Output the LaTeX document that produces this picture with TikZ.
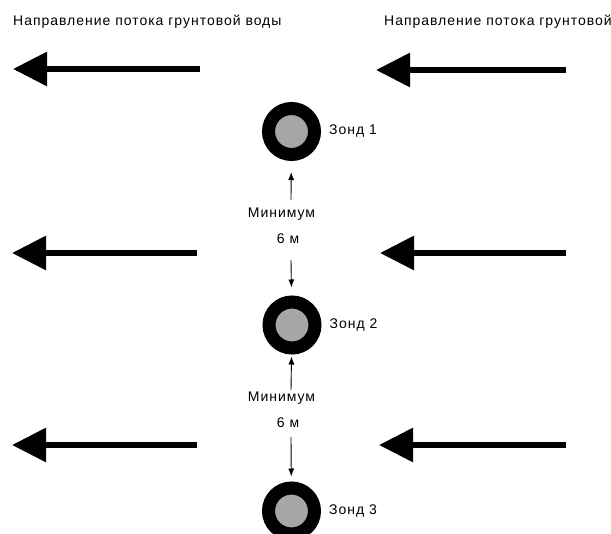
\documentclass[tikz,border=0pt]{standalone}
\usepackage{fontspec}
\setmainfont{Liberation Sans}[LetterSpace=7]
\usepackage{xcolor}
\usetikzlibrary{arrows.meta, positioning}

\tikzset{
    flow/.style={line width=6pt, -{Triangle[length=34pt, width=33pt]}},
    probe/.style={circle, draw=black, line width=13pt, fill=black!35, minimum size=46pt, inner sep=0pt},
    gap/.style={-{Latex[length=8pt, width=6pt]}, line width=0.9pt},
    txt/.style={inner sep=0pt, font=\fontsize{14pt}{17pt}\selectfont}
}

\begin{document}
\begin{tikzpicture}[x=1pt, y=-1pt]
    \useasboundingbox (0,0) rectangle (611,534);
    \clip (0,0) rectangle (611,534);

    % Подписи направления
    \node[txt, anchor=west] (t1) at (13,22) {Направление потока грунтовой воды};
    \node[txt, anchor=west] (t2) at (384,22) {Направление потока грунтовой};

    % Стрелки потока
    \draw[flow] (200,69) -- (13,69);
    \draw[flow] (566,70) -- (376,70);
    \draw[flow] (197,253) -- (12,253);
    \draw[flow] (566,253) -- (380,253);
    \draw[flow] (197,445) -- (12,445);
    \draw[flow] (566,445) -- (379,445);

    % Зонды
    \node[probe] (z1) at (291.5,131.5) {};
    \node[probe] (z2) at (292,325) {};
    \node[probe] (z3) at (291.5,511) {};
    \node[txt, right=8pt of z1] (l1) {Зонд 1};
    \node[txt, right=8pt of z2] (l2) {Зонд 2};
    \node[txt, right=8pt of z3] (l3) {Зонд 3};

    % Расстояния
    \node[txt] (m1) at (281.5,214) {Минимум};
    \node[txt] (d1) at (288,239) {6 м};
    \node[txt] (m2) at (281.5,398) {Минимум};
    \node[txt] (d2) at (288,423) {6 м};
    \coordinate (a1) at (291,200);
    \coordinate (b1) at (291,260);
    \coordinate (a2) at (291,390);
    \coordinate (b2) at (291,437);
    \draw[gap, shorten >=11pt] (a1) -- (z1);
    \draw[gap, shorten >=8pt] (b1) -- (z2);
    \draw[gap, shorten >=2pt] (a2) -- (z2);
    \draw[gap, shorten >=5pt] (b2) -- (z3);
\end{tikzpicture}
\end{document}
